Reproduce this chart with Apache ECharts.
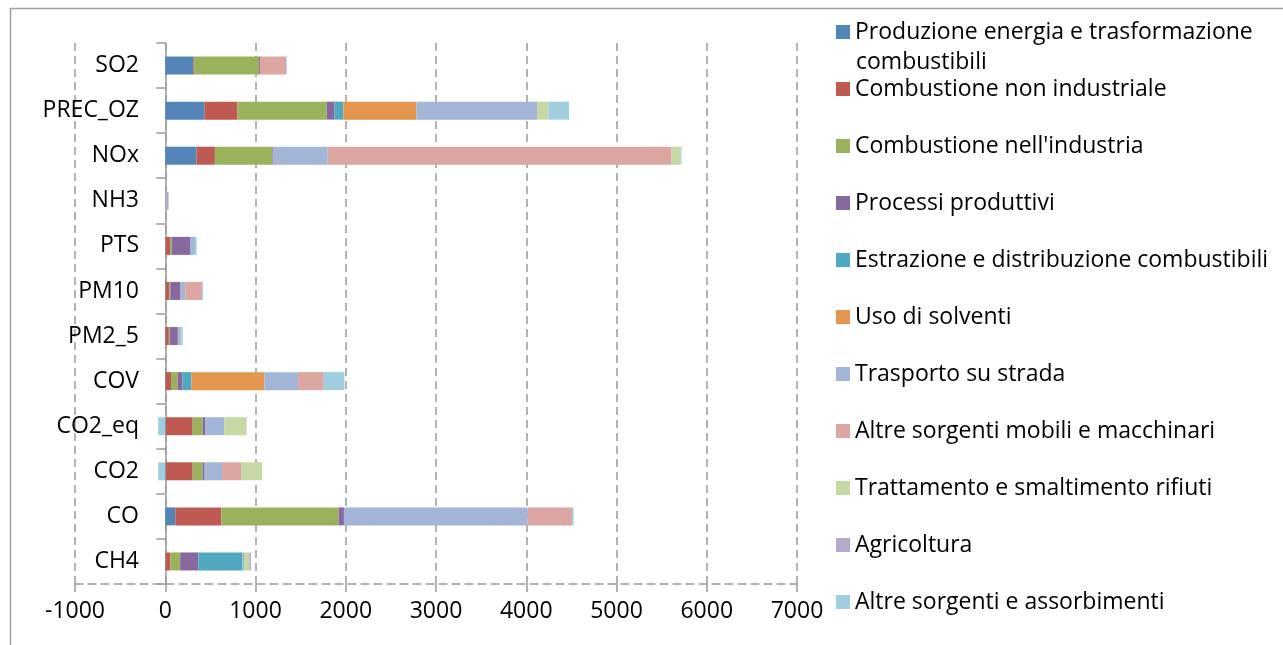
<!DOCTYPE html>
<html>
<head>
<meta charset="utf-8">
<title>Emissioni per macrosettore</title>
<script src="https://cdn.jsdelivr.net/npm/echarts@6/dist/echarts.min.js"></script>
<style>
  html, body { margin: 0; padding: 0; background: #ffffff; }
  #chart { width: 1283px; height: 645px; }
</style>
</head>
<body>
<div id="chart"></div>
<script>
// Inquinanti, dal basso verso l'alto
const categories = ['CH4', 'CO', 'CO2', 'CO2_eq', 'COV', 'PM2_5', 'PM10', 'PTS', 'NH3', 'NOx', 'PREC_OZ', 'SO2'];

// Contributi per macrosettore (stesso ordine delle categorie)
const produzioneEnergia   = [3, 111, 4, 4, 5, 3, 5, 5, 0, 346, 433, 311];
const combNonIndustriale  = [55, 510, 300, 300, 59, 37, 40, 48, 2, 204, 365, 8];
const combIndustria       = [107, 1300, 111, 111, 74, 10, 10, 18, 0, 638, 991, 720];
const processiProduttivi  = [203, 59, 22, 30, 52, 89, 114, 203, 0, 12, 84, 10];
const estrazioneDistrib   = [487, 0, 0, 0, 100, 0, 0, 0, 0, 0, 100, 0];
const usoSolventi         = [0, 0, 0, 0, 809, 0, 0, 0, 0, 0, 809, 0];
const trasportoStrada     = [18, 2035, 192, 210, 373, 33, 52, 55, 8, 601, 1337, 0];
const altreMobili         = [0, 491, 210, 0, 284, 7, 185, 0, 0, 3806, 0, 290];
const trattamentoRifiuti  = [59, 0, 236, 240, 0, 0, 0, 0, 0, 102, 125, 0];
const agricoltura         = [18, 0, 0, 5, 0, 0, 0, 0, 25, 0, 0, 0];
const altreAssorbimenti   = [0, 18, -78, -78, 229, 15, 11, 18, 5, 12, 230, 8];

const xTicks = { min: -1000, max: 7000, interval: 1000 };

const seriesDefs = [
  ['Produzione energia e trasformazione', produzioneEnergia, '#5385B8'],
  ['Combustione non industriale', combNonIndustriale, '#BE5A52'],
  ["Combustione nell'industria", combIndustria, '#9BB25C'],
  ['Processi produttivi', processiProduttivi, '#8769A0'],
  ['Estrazione e distribuzione combustibili', estrazioneDistrib, '#4FA8BE'],
  ['Uso di solventi', usoSolventi, '#E5964E'],
  ['Trasporto su strada', trasportoStrada, '#A3B6D7'],
  ['Altre sorgenti mobili e macchinari', altreMobili, '#DCA6A3'],
  ['Trattamento e smaltimento rifiuti', trattamentoRifiuti, '#C6D8A4'],
  ['Agricoltura', agricoltura, '#B6AACB'],
  ['Altre sorgenti e assorbimenti', altreAssorbimenti, '#9FCFDE']
];

const FONT = '"Open Sans"';
const chart = echarts.init(document.getElementById('chart'), null, { renderer: 'canvas' });

chart.setOption({
  animation: false,
  backgroundColor: '#ffffff',
  textStyle: { fontFamily: FONT },
  grid: { left: 75, right: 486, top: 43, bottom: 61, containLabel: false, outerBoundsMode: 'none' },
  xAxis: {
    type: 'value',
    min: xTicks.min,
    max: xTicks.max,
    interval: xTicks.interval,
    axisLine: { show: true, lineStyle: { color: '#9a9a9a', width: 1.5, type: [8, 5] } },
    axisTick: { show: true, length: 8, lineStyle: { color: '#9a9a9a', width: 1.5 } },
    axisLabel: { color: '#000', fontSize: 23, fontFamily: FONT, margin: 16, formatter: v => String(v) },
    splitLine: { show: true, lineStyle: { color: '#9a9a9a', width: 1.5, type: [8, 5] } }
  },
  yAxis: {
    type: 'category',
    data: categories,
    axisLine: { show: true, onZero: true, lineStyle: { color: '#9a9a9a', width: 1.5 } },
    axisTick: { show: true, length: 9, lineStyle: { color: '#9a9a9a', width: 1.5 } },
    // labels sit just left of the zero line, inside the plot area
    axisLabel: { color: '#000', fontSize: 23, fontFamily: FONT, margin: -64, align: 'right' },
    splitLine: { show: false }
  },
  legend: {
    orient: 'vertical',
    left: 831,
    top: 14,
    itemWidth: 14,
    itemHeight: 14,
    itemGap: 31,
    icon: 'rect',
    textStyle: { color: '#000', fontSize: 23, fontFamily: FONT, lineHeight: 26 },
    data: seriesDefs.map(d => d[0])
  },
  graphic: [
    {
      type: 'rect',
      silent: true,
      shape: { x: 10.5, y: 8.5, width: 1320, height: 700 },
      style: { fill: 'none', stroke: '#a0a0a0', lineWidth: 1.5 }
    },
    {
      type: 'text',
      silent: true,
      left: 856,
      top: 51,
      style: { text: 'combustibili', fill: '#000', font: '23px ' + FONT }
    }
  ],
  series: seriesDefs.map(([name, values, color]) => ({
    name: name,
    type: 'bar',
    stack: 'totale',
    barWidth: 18,
    data: values,
    itemStyle: { color: color }
  }))
});
</script>
</body>
</html>
